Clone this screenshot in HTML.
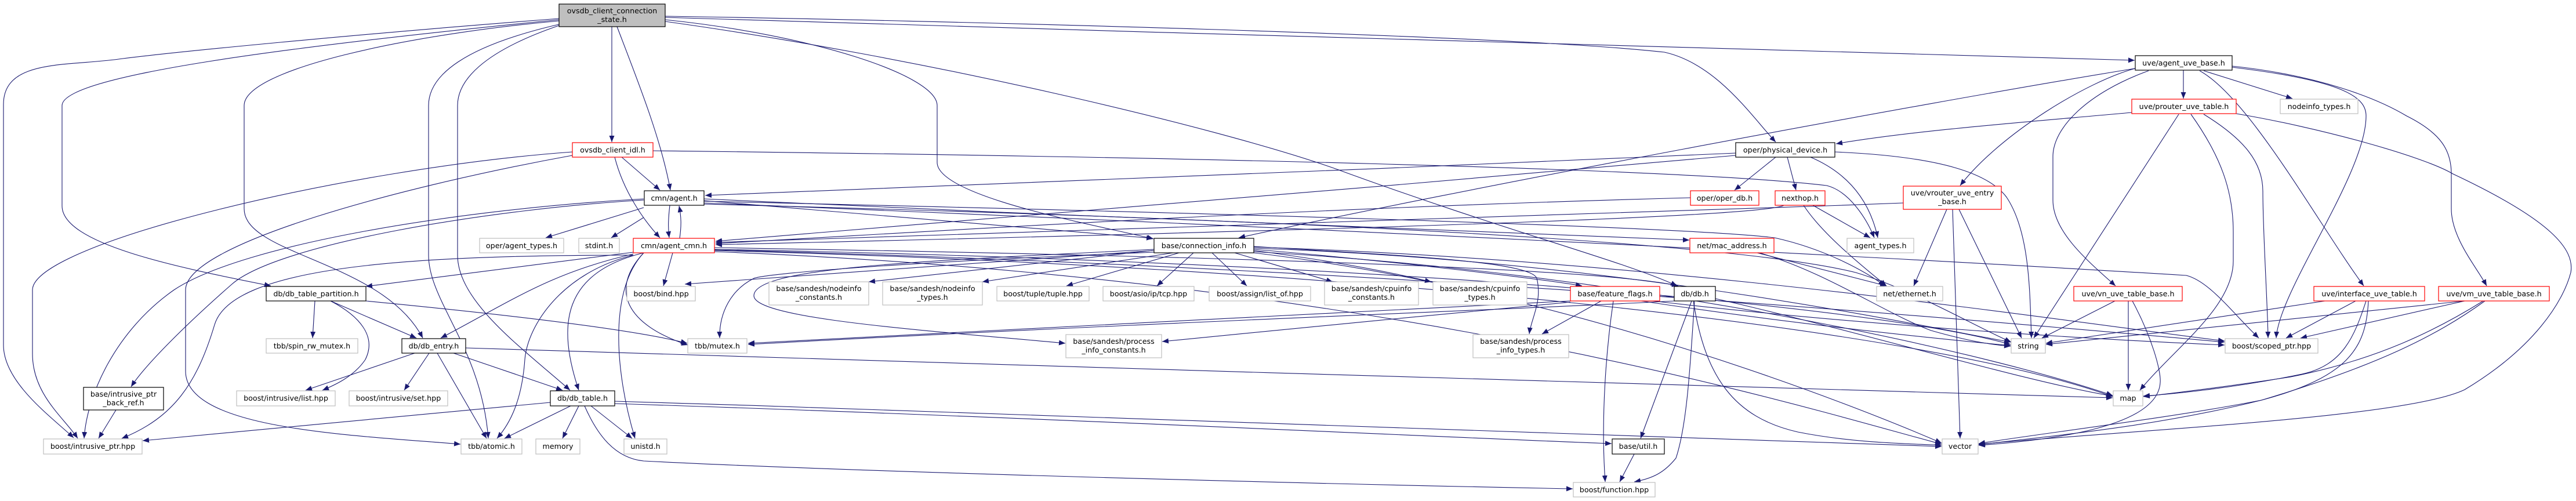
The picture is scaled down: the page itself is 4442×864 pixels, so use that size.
<!DOCTYPE html>
<html><head><meta charset="utf-8"><style>
html,body{margin:0;padding:0;background:#fff;}
svg{display:block;}
text{font-family:"DejaVu Sans","Liberation Sans",sans-serif;font-size:12.7px;fill:#000;text-anchor:middle;}
.e{fill:none;stroke:#191970;stroke-width:1.1;marker-end:url(#a);}
.b{fill:#fff;stroke:#000;stroke-width:1.2;}
.g{fill:#fff;stroke:#bfbfbf;stroke-width:1.2;}
.r{fill:#fff;stroke:#ff0000;stroke-width:1.2;}
.m{fill:#bfbfbf;stroke:#000;stroke-width:1.2;}
</style></head><body>
<svg width="4442" height="864" viewBox="0 0 4442 864" xmlns="http://www.w3.org/2000/svg">
<defs><marker id="a" markerUnits="userSpaceOnUse" markerWidth="12" markerHeight="10" refX="11" refY="4.5" orient="auto"><path d="M0,0 L11,4.5 L0,9 z" fill="#191970"/></marker></defs>
<g>
<!-- ovsdb main -->
<path class="e" d="M964,32 C600,60 300,90 212,101 C120,115 6,100 6,180 L6,595 C6,660 90,720 127,755"/>
<path class="e" d="M964,34 C500,80 107,130 107,182 L107,355 C107,420 300,460 467,493"/>
<path class="e" d="M964,36 C700,60 421,120 421,182 L421,360 C421,440 660,450 729,583"/>
<path class="e" d="M964,42 C800,80 739,130 739,182 L739,440 C739,520 830,600 842,756"/>
<path class="e" d="M964,44 C830,90 789,140 789,182 L789,440 C789,520 900,600 983,673"/>
<path class="e" d="M1055,46 L1055,245"/>
<path class="e" d="M1064,46 C1100,140 1140,240 1156,328"/>
<path class="e" d="M1147,28 C1600,35 2600,60 2870,90 C2960,110 3020,200 3062,245"/>
<path class="e" d="M1147,30 C2000,55 3000,88 3681,104"/>
<path class="e" d="M1147,34 C1400,60 1616,130 1616,182 L1616,280 C1616,340 1900,390 1989,412"/>
<path class="e" d="M1147,37 C1600,100 2100,220 2300,290 C2600,400 2800,450 2892,493"/>
<!-- idl -->
<path class="e" d="M987,262 C600,290 56,420 56,500 L56,610 C56,680 110,720 134,756"/>
<path class="e" d="M987,268 C700,320 320,420 320,500 L320,640 C320,740 600,750 794,766"/>
<path class="e" d="M1072,271 L1138,328"/>
<path class="e" d="M1060,271 C1075,330 1110,380 1138,410"/>
<path class="e" d="M1126,260 C2000,270 2900,290 3150,320 C3190,330 3220,380 3232,410"/>
<!-- agent.h -->
<path class="e" d="M1110,358 L941,410"/>
<path class="e" d="M1110,375 L1054,410"/>
<path class="e" d="M1155,354 C1152,380 1152,395 1154,410"/>
<path class="e" d="M1172,411 C1175,390 1175,375 1171,355"/>
<path class="e" d="M1110,343 C800,360 420,420 300,500 C200,570 150,680 145,756"/>
<path class="e" d="M1110,345 C850,360 480,420 400,490 C320,560 250,630 226,667"/>
<path class="e" d="M1214,346 L1988,411"/>
<path class="e" d="M1214,343 C1800,370 2500,400 2913,414"/>
<path class="e" d="M1214,347 C2000,365 2900,390 3060,410 C3150,430 3220,470 3250,493"/>
<path class="e" d="M1214,350 C2200,390 3200,440 3770,475 C3810,485 3850,540 3895,583"/>
<path class="e" d="M1214,352 C2300,380 3000,420 3200,470 C3300,500 3400,560 3468,590"/>
<!-- agent_cmn -->
<path class="e" d="M1092,435 L631,494"/>
<path class="e" d="M1092,438 C950,470 880,520 760,583"/>
<path class="e" d="M1092,440 C700,440 400,460 370,560 C340,660 300,720 210,756"/>
<path class="e" d="M1092,440 C970,470 910,560 905,620 C900,690 880,730 857,756"/>
<path class="e" d="M1110,436 C970,470 960,560 998,673"/>
<path class="e" d="M1110,436 C1050,500 1060,640 1095,756"/>
<path class="e" d="M1160,436 L1144,493"/>
<path class="e" d="M1110,436 C1050,500 1080,560 1186,595"/>
<path class="e" d="M1232,427 C2000,440 2750,460 2894,493"/>
<path class="e" d="M1232,430 C2300,450 3200,520 3467,594"/>
<path class="e" d="M1232,432 C2300,460 3300,560 3643,684"/>
<path class="e" d="M1232,434 C2400,480 3100,700 3348,766"/>
<path class="e" d="M1232,431 C2400,460 3500,560 3836,590"/>
<!-- incoming to agent_cmn / agent -->
<path class="e" d="M2915,341 C2200,360 1600,400 1234,420"/>
<path class="e" d="M3076,354 C3050,370 2600,390 1234,422"/>
<path class="e" d="M2993,264 C2400,290 1700,320 1216,337"/>
<path class="e" d="M2993,268 C2400,320 1700,380 1234,416"/>
<path class="e" d="M3282,350 C2500,380 1700,405 1234,418"/>
<!-- uve -->
<path class="e" d="M3682,118 C3300,180 2500,330 2136,410"/>
<path class="e" d="M3676,194 C3500,210 3300,225 3166,248"/>
<path class="e" d="M3682,118 C3600,140 3450,230 3380,320"/>
<path class="e" d="M3765,121 L3765,170"/>
<path class="e" d="M3800,122 L3953,170"/>
<path class="e" d="M3705,122 C3600,160 3540,220 3540,270 L3540,345 C3540,400 3600,450 3648,493"/>
<path class="e" d="M3793,122 C3880,170 4000,390 4076,493"/>
<path class="e" d="M3849,116 C4050,140 4080,170 4080,200 C4080,300 3930,500 3925,583"/>
<path class="e" d="M3849,114 C4000,130 4100,170 4150,200 C4210,230 4227,260 4227,300 L4227,360 C4227,410 4270,460 4288,493"/>
<path class="e" d="M3757,197 L3507,583"/>
<path class="e" d="M3778,197 C3830,270 3851,330 3851,400 L3851,450 C3851,530 3750,600 3690,673"/>
<path class="e" d="M3800,197 C3870,240 3902,280 3902,330 C3902,400 3910,520 3911,583"/>
<path class="e" d="M3856,196 C4000,220 4180,270 4230,300 C4400,380 4440,430 4433,470 C4420,520 4370,600 4250,672 C4150,720 3700,740 3412,766"/>
<path class="e" d="M3378,361 L3486,583"/>
<path class="e" d="M3367,361 L3380,756"/>
<path class="e" d="M3357,361 L3300,493"/>
<path class="e" d="M3126,354 L3225,410"/>
<path class="e" d="M3110,354 C3140,400 3200,450 3253,493"/>
<path class="e" d="M3062,271 L2991,328"/>
<path class="e" d="M3082,271 L3097,328"/>
<path class="e" d="M3122,271 C3190,300 3225,350 3238,410"/>
<path class="e" d="M3164,262 C3350,270 3430,300 3460,340 C3500,400 3500,500 3503,583"/>
<path class="e" d="M3030,436 L3253,493"/>
<path class="e" d="M3034,436 C3150,470 3250,540 3330,570 C3400,590 3440,595 3467,597"/>
<path class="e" d="M3647,519 L3521,583"/>
<path class="e" d="M3670,519 L3670,673"/>
<path class="e" d="M3677,519 C3710,580 3727,640 3725,660 C3720,740 3520,760 3412,768"/>
<path class="e" d="M4009,519 L3528,592"/>
<path class="e" d="M4062,519 L3942,583"/>
<path class="e" d="M4080,519 C4060,580 4040,630 3970,645 C3850,670 3740,680 3696,683"/>
<path class="e" d="M4084,519 C4080,600 4050,650 3900,690 C3750,720 3500,750 3412,765"/>
<path class="e" d="M4250,519 L3528,594"/>
<path class="e" d="M4250,519 L3967,583"/>
<path class="e" d="M4282,519 C4200,570 4100,620 3950,650 C3820,670 3730,680 3696,684"/>
<path class="e" d="M4285,519 C4200,580 4100,630 3900,690 C3700,740 3500,755 3412,767"/>
<!-- connection_info -->
<path class="e" d="M1988,432 L1498,486"/>
<path class="e" d="M2023,436 L1694,486"/>
<path class="e" d="M2033,436 L1839,493"/>
<path class="e" d="M2058,436 L1995,493"/>
<path class="e" d="M2090,436 L2150,493"/>
<path class="e" d="M2129,436 L2298,486"/>
<path class="e" d="M2162,432 C2300,450 2400,470 2468,486"/>
<path class="e" d="M2162,430 C2400,450 2650,480 2728,493"/>
<path class="e" d="M2162,425 C2400,440 2640,450 2650,480 C2660,520 2640,550 2637,576"/>
<path class="e" d="M1990,430 C1600,450 1300,460 1300,510 C1300,550 1600,570 1837,592"/>
<path class="e" d="M1990,432 L1181,490"/>
<path class="e" d="M1990,435 C1600,450 1330,470 1300,480 C1260,500 1240,540 1241,583"/>
<path class="e" d="M2162,428 C2800,450 3300,560 3467,590"/>
<path class="e" d="M2162,434 C2800,470 3400,600 3643,682"/>
<path class="e" d="M2162,436 C2700,500 3200,700 3348,764"/>
<path class="e" d="M2162,426 C2900,450 3600,560 3836,588"/>
<!-- db.h / feature_flags -->
<path class="e" d="M2887,519 C2700,530 2000,555 1290,594"/>
<path class="e" d="M2917,519 L2829,756"/>
<path class="e" d="M2922,519 C2915,620 2910,730 2890,790 C2870,815 2850,825 2818,831"/>
<path class="e" d="M2920,519 C2940,650 2990,720 3100,745 C3200,765 3300,765 3348,768"/>
<path class="e" d="M2958,515 C3200,570 3500,660 3643,683"/>
<path class="e" d="M2782,519 C2770,600 2760,720 2768,831"/>
<path class="e" d="M2761,519 L2659,576"/>
<path class="e" d="M2708,519 C2300,540 1700,570 1290,592"/>
<path class="e" d="M2708,521 C2500,540 2200,570 2004,589"/>
<path class="e" d="M2830,519 C3100,560 3350,585 3467,596"/>
<path class="e" d="M2850,519 C3200,560 3600,585 3836,595"/>
<path class="e" d="M2818,783 L2793,831"/>
<!-- db partition / entry / table -->
<path class="e" d="M543,519 L539,583"/>
<path class="e" d="M570,519 L718,583"/>
<path class="e" d="M570,519 C620,545 650,580 630,620 C610,650 575,665 556,673"/>
<path class="e" d="M631,519 C900,545 1100,570 1185,592"/>
<path class="e" d="M715,609 L527,673"/>
<path class="e" d="M740,609 L697,673"/>
<path class="e" d="M754,609 L839,756"/>
<path class="e" d="M782,609 L970,673"/>
<path class="e" d="M803,600 C1500,620 3000,670 3643,686"/>
<path class="e" d="M949,694 L246,760"/>
<path class="e" d="M984,700 L870,756"/>
<path class="e" d="M998,700 L970,756"/>
<path class="e" d="M1019,700 L1090,756"/>
<path class="e" d="M1008,700 C1030,750 1060,790 1110,795 C1500,815 2300,835 2712,843"/>
<path class="e" d="M1060,692 C2000,720 3000,760 3348,770"/>
<path class="e" d="M1060,696 C1800,720 2500,755 2779,765"/>
<path class="e" d="M200,707 L170,756"/>
</g>
<g>
<rect class="m" x="964" y="7" width="183" height="39"/><text x="1055.5" y="23">ovsdb_client_connection</text><text x="1055.5" y="38">_state.h</text>
<rect class="r" x="987" y="246" width="139" height="25"/><text x="1056.5" y="263">ovsdb_client_idl.h</text>
<rect class="b" x="1111" y="329" width="103" height="25"/><text x="1162.5" y="346">cmn/agent.h</text>
<rect class="r" x="1092" y="411" width="140" height="25"/><text x="1162" y="428">cmn/agent_cmn.h</text>
<rect class="g" x="827" y="411" width="145" height="25"/><text x="899.5" y="428">oper/agent_types.h</text>
<rect class="g" x="998" y="411" width="70" height="25"/><text x="1033" y="428">stdint.h</text>
<rect class="g" x="1081" y="494" width="118" height="25"/><text x="1140" y="511">boost/bind.hpp</text>
<rect class="b" x="459" y="494" width="172" height="25"/><text x="545" y="511">db/db_table_partition.h</text>
<rect class="g" x="459" y="584" width="158" height="25"/><text x="538" y="601">tbb/spin_rw_mutex.h</text>
<rect class="b" x="693" y="584" width="110" height="25"/><text x="748" y="601">db/db_entry.h</text>
<rect class="b" x="144" y="668" width="138" height="39"/><text x="213" y="684">base/intrusive_ptr</text><text x="213" y="699">_back_ref.h</text>
<rect class="g" x="408" y="674" width="170" height="26"/><text x="493" y="691">boost/intrusive/list.hpp</text>
<rect class="g" x="602" y="674" width="170" height="26"/><text x="687" y="691">boost/intrusive/set.hpp</text>
<rect class="b" x="949" y="674" width="111" height="26"/><text x="1004.5" y="691">db/db_table.h</text>
<rect class="g" x="75" y="757" width="170" height="26"/><text x="160" y="774">boost/intrusive_ptr.hpp</text>
<rect class="g" x="795" y="757" width="105" height="26"/><text x="847.5" y="774">tbb/atomic.h</text>
<rect class="g" x="924" y="757" width="76" height="26"/><text x="962" y="774">memory</text>
<rect class="g" x="1076" y="757" width="74" height="26"/><text x="1113" y="774">unistd.h</text>
<rect class="b" x="1990" y="411" width="172" height="25"/><text x="2076" y="428">base/connection_info.h</text>
<rect class="g" x="1326" y="486" width="172" height="40"/><text x="1412" y="502">base/sandesh/nodeinfo</text><text x="1412" y="517">_constants.h</text>
<rect class="g" x="1522" y="486" width="172" height="40"/><text x="1608" y="502">base/sandesh/nodeinfo</text><text x="1608" y="517">_types.h</text>
<rect class="g" x="1719" y="494" width="159" height="25"/><text x="1798.5" y="511">boost/tuple/tuple.hpp</text>
<rect class="g" x="1902" y="494" width="157" height="25"/><text x="1980.5" y="511">boost/asio/ip/tcp.hpp</text>
<rect class="g" x="2085" y="494" width="175" height="25"/><text x="2172.5" y="511">boost/assign/list_of.hpp</text>
<rect class="g" x="1186" y="584" width="102" height="25"/><text x="1237" y="601">tbb/mutex.h</text>
<rect class="g" x="1838" y="577" width="165" height="40"/><text x="1920.5" y="593">base/sandesh/process</text><text x="1920.5" y="608">_info_constants.h</text>
<rect class="g" x="2284" y="486" width="162" height="40"/><text x="2365" y="502">base/sandesh/cpuinfo</text><text x="2365" y="517">_constants.h</text>
<rect class="g" x="2471" y="486" width="162" height="40"/><text x="2552" y="502">base/sandesh/cpuinfo</text><text x="2552" y="517">_types.h</text>
<rect class="r" x="2708" y="494" width="154" height="25"/><text x="2785" y="511">base/feature_flags.h</text>
<rect class="b" x="2887" y="494" width="71" height="25"/><text x="2922.5" y="511">db/db.h</text>
<rect class="g" x="3236" y="494" width="114" height="25"/><text x="3293" y="511">net/ethernet.h</text>
<rect class="g" x="2540" y="577" width="165" height="40"/><text x="2622.5" y="593">base/sandesh/process</text><text x="2622.5" y="608">_info_types.h</text>
<rect class="b" x="2780" y="757" width="90" height="26"/><text x="2825" y="774">base/util.h</text>
<rect class="g" x="2713" y="832" width="141" height="25"/><text x="2783.5" y="849">boost/function.hpp</text>
<rect class="b" x="2993" y="246" width="171" height="25"/><text x="3078.5" y="263">oper/physical_device.h</text>
<rect class="r" x="2915" y="329" width="118" height="25"/><text x="2974" y="346">oper/oper_db.h</text>
<rect class="r" x="3061" y="329" width="86" height="25"/><text x="3104" y="346">nexthop.h</text>
<rect class="r" x="2914" y="411" width="145" height="25"/><text x="2986.5" y="428">net/mac_address.h</text>
<rect class="g" x="3185" y="411" width="115" height="25"/><text x="3242.5" y="428">agent_types.h</text>
<rect class="r" x="3282" y="321" width="169" height="40"/><text x="3366.5" y="337">uve/vrouter_uve_entry</text><text x="3366.5" y="352">_base.h</text>
<rect class="b" x="3682" y="96" width="167" height="25"/><text x="3765.5" y="113">uve/agent_uve_base.h</text>
<rect class="r" x="3676" y="171" width="180" height="25"/><text x="3766" y="188">uve/prouter_uve_table.h</text>
<rect class="g" x="3932" y="171" width="134" height="25"/><text x="3999" y="188">nodeinfo_types.h</text>
<rect class="r" x="3576" y="494" width="187" height="25"/><text x="3669.5" y="511">uve/vn_uve_table_base.h</text>
<rect class="r" x="3990" y="494" width="191" height="25"/><text x="4085.5" y="511">uve/interface_uve_table.h</text>
<rect class="r" x="4205" y="494" width="191" height="25"/><text x="4300.5" y="511">uve/vm_uve_table_base.h</text>
<rect class="g" x="3468" y="584" width="59" height="25"/><text x="3497.5" y="601">string</text>
<rect class="g" x="3837" y="584" width="160" height="25"/><text x="3917" y="601">boost/scoped_ptr.hpp</text>
<rect class="g" x="3644" y="674" width="51" height="26"/><text x="3669.5" y="691">map</text>
<rect class="g" x="3349" y="757" width="62" height="26"/><text x="3380" y="774">vector</text>
</g>
</svg>
</body></html>
